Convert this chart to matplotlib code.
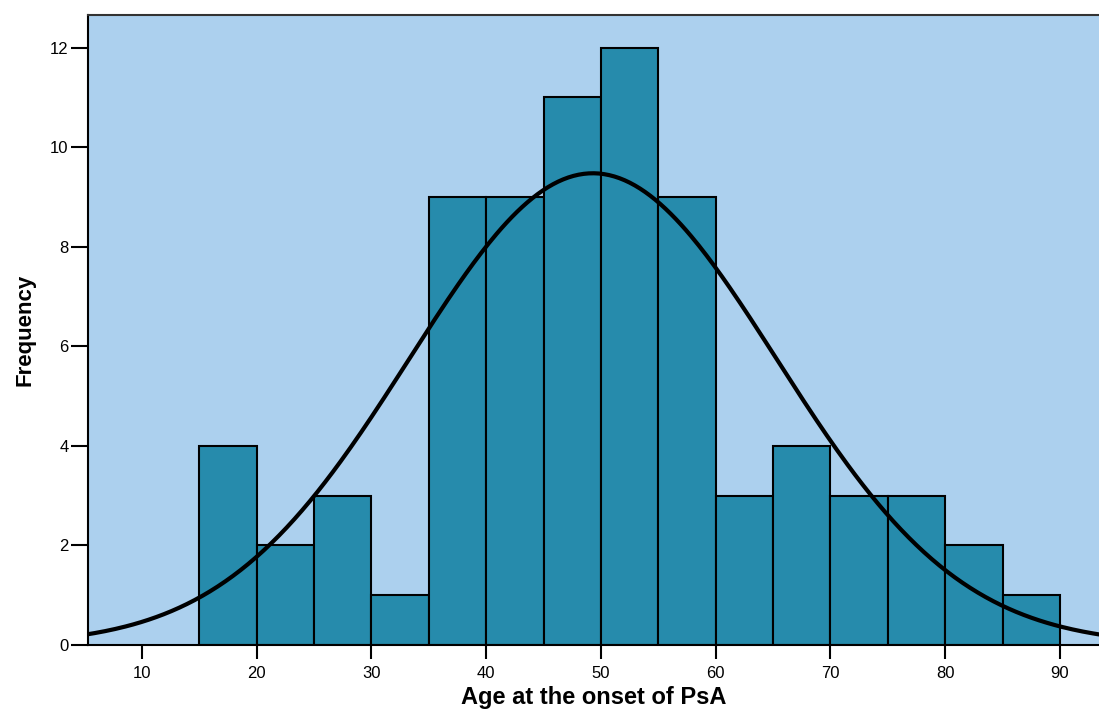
import numpy as np
import matplotlib
matplotlib.use("Agg")
from matplotlib import pyplot as plt
from matplotlib import font_manager as fm

# keep the regular-width Liberation Sans, not the Narrow cut
fm.fontManager.ttflist = [f for f in fm.fontManager.ttflist if 'Narrow' not in f.fname]
plt.rcParams['font.family'] = ['Liberation Sans', 'DejaVu Sans']

# histogram data (bin edges of width 5, counts)
bin_edges = [15, 20, 25, 30, 35, 40, 45, 50, 55, 60, 65, 70, 75, 80, 85, 90]
counts = [4, 2, 3, 1, 9, 9, 11, 12, 9, 3, 4, 3, 3, 2, 1]

# fitted normal curve parameters
mean_age = 49.3
std_age = 16.0

x_ticks = [10, 20, 30, 40, 50, 60, 70, 80, 90]
y_ticks = [0, 2, 4, 6, 8, 10, 12]

fig = plt.figure(figsize=(10.99, 7.13), dpi=100)
ax = fig.add_axes([0.080, 0.0954, 0.920, 0.884])
ax.set_facecolor('#acd0ee')

widths = np.diff(bin_edges)
ax.bar(bin_edges[:-1], counts, width=widths, align='edge',
       color='#268bac', edgecolor='black', linewidth=1.5, zorder=2)

n = sum(counts)
bw = widths[0]
xs = np.linspace(5, 94, 400)
ys = n * bw / (std_age * np.sqrt(2 * np.pi)) * np.exp(-0.5 * ((xs - mean_age) / std_age) ** 2)
ax.plot(xs, ys, color='black', linewidth=3, zorder=3)

ax.set_xlim(5.3, 93.4)
ax.set_ylim(0, 12.66)
ax.set_xticks(x_ticks)
ax.set_yticks(y_ticks)
ax.tick_params(axis='both', direction='out', length=12, width=1.5,
               labelsize=12, colors='black')
ax.tick_params(axis='x', length=10, pad=5)
ax.tick_params(axis='y', pad=2)

for side in ['left', 'top', 'bottom']:
    ax.spines[side].set_linewidth(1.5)
    ax.spines[side].set_color('black')
ax.spines['right'].set_visible(False)
ax.spines['top'].set_color('#333333')

ax.set_xlabel('Age at the onset of PsA', fontsize=17, fontweight='bold', labelpad=4)
ax.set_ylabel('Frequency', fontsize=16, fontweight='bold', labelpad=10)

fig.savefig('out.png', dpi=100)
